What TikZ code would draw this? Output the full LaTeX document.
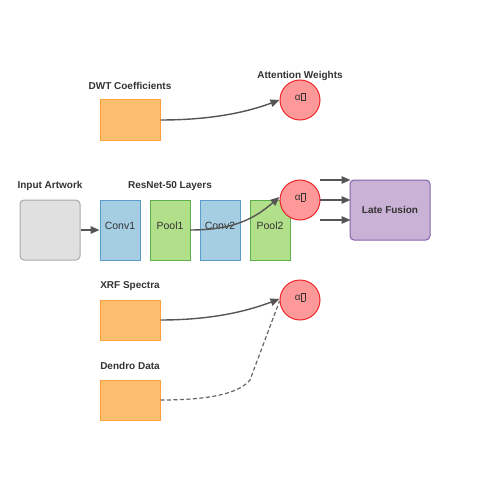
\documentclass[tikz,border=0pt]{standalone}
\usepackage{fontspec}
\setmainfont{Liberation Sans}
\usetikzlibrary{arrows.meta}
\definecolor{orfill}{HTML}{FDBF6F}
\definecolor{ordraw}{HTML}{FF9F3A}
\definecolor{blfill}{HTML}{A6CEE3}
\definecolor{bldraw}{HTML}{5A9BC9}
\definecolor{grfill}{HTML}{B2DF8A}
\definecolor{grdraw}{HTML}{5CB04A}
\definecolor{rdfill}{HTML}{FF9999}
\definecolor{rddraw}{HTML}{E8262A}
\definecolor{pufill}{HTML}{CAB2D6}
\definecolor{pudraw}{HTML}{8462A8}
\definecolor{gyfill}{HTML}{E0E0E0}
\definecolor{gydraw}{HTML}{AAAAAA}
\definecolor{txt}{HTML}{333333}
\definecolor{arr}{HTML}{555555}
\newcommand{\tofu}{{\setlength\fboxsep{0pt}\setlength\fboxrule{0.4pt}\fbox{\rule{0pt}{7pt}\hspace{3.5pt}}}}
\begin{document}
\begin{tikzpicture}[x=1pt,y=-1pt,
  lbl/.style={font=\bfseries\fontsize{10}{12}\selectfont,text=txt,inner sep=0pt},
  databox/.style={draw=ordraw,fill=orfill,line width=1pt,minimum width=60pt,minimum height=40pt,inner sep=0pt},
  layerbox/.style={line width=1pt,minimum width=40pt,minimum height=60pt,inner sep=0pt,
    label={[font=\fontsize{10.5}{12}\selectfont,text=txt,inner sep=0pt,yshift=4pt]center:#1}},
  conv/.style={layerbox=#1,draw=bldraw,fill=blfill},
  pool/.style={layerbox=#1,draw=grdraw,fill=grfill},
  attn/.style={circle,draw=rddraw,fill=rdfill,line width=1pt,minimum size=40pt,inner sep=0pt},
  alab/.style={font=\fontsize{10}{12}\selectfont,text=txt,inner sep=0pt},
  conn/.style={draw=arr,line width=1.4pt,-{Triangle[length=9pt,width=7.5pt]}},
]
\useasboundingbox (0,0) rectangle (500,500);
% labels
\node[lbl] (tdwt) at (130,86) {DWT Coefficients};
\node[lbl] (tatt) at (300,76) {Attention Weights};
\node[lbl] (tin) at (50,186) {Input Artwork};
\node[lbl] (tres) at (170,186) {ResNet-50 Layers};
\node[lbl] (txrf) at (130,286) {XRF Spectra};
\node[lbl] (tden) at (130,366) {Dendro Data};
% boxes
\node[databox] (dwt) at (130,120) {};
\node[databox] (xrf) at (130,320) {};
\node[databox] (den) at (130,400) {};
\node[draw=gydraw,fill=gyfill,line width=1pt,rounded corners=4pt,minimum width=60pt,minimum height=60pt] (in) at (50,230) {};
\node[conv=Conv1] (c1) at (120,230) {};
\node[pool=Pool1] (p1) at (170,230) {};
\node[conv=Conv2] (c2) at (220,230) {};
\node[pool=Pool2] (p2) at (270,230) {};
\node[draw=pudraw,fill=pufill,line width=1pt,rounded corners=4pt,minimum width=80pt,minimum height=60pt,font=\bfseries\fontsize{10}{12}\selectfont,text=txt] (lf) at (390,210) {Late Fusion};
% attention circles
\node[attn] (a1) at (300,100) {};
\node[attn] (a2) at (300,200) {};
\node[attn] (a3) at (300,300) {};
\node[alab] at (300,97) {α\tofu};
\node[alab] at (300,197) {α\tofu};
\node[alab] at (300,297) {α\tofu};
% connectors
\coordinate (s1) at (190,230);
\draw[conn] (in.east |- s1) -- (c1.west |- s1);
\draw[conn] (dwt.east) .. controls (215,120) and (250,111) .. ([yshift=0pt]a1.west);
\draw[conn] (s1) .. controls (235,230) and (255,218) .. ([yshift=3pt]a2.west);
\draw[conn] (xrf.east) .. controls (215,320) and (250,310) .. ([yshift=1pt]a3.west);
\draw[draw=arr!90,line width=1.2pt,dash pattern=on 4pt off 2.5pt] (den.east) .. controls (215,400) and (240,392) .. (250,380) -- ([yshift=-1pt]a3.west);
\coordinate (o1) at (320,180);
\coordinate (o2) at (320,200);
\coordinate (o3) at (320,220);
\draw[conn] (o1) -- ([xshift=1pt]lf.west |- o1);
\draw[conn] (o2) -- ([xshift=1pt]lf.west |- o2);
\draw[conn] (o3) -- ([xshift=1pt]lf.west |- o3);
\end{tikzpicture}
\end{document}
